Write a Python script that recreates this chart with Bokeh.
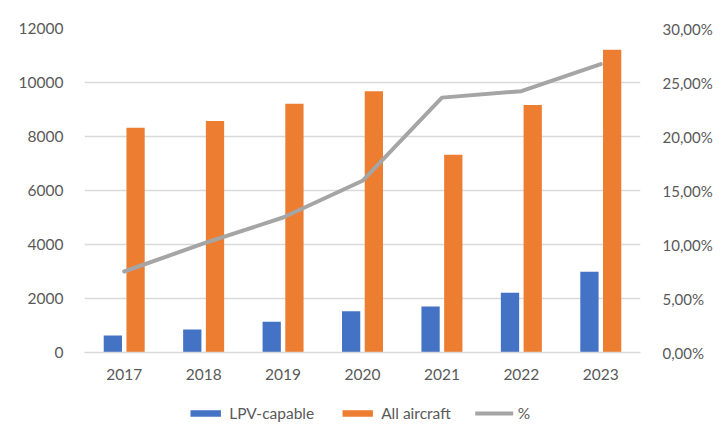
from bokeh.plotting import figure
from bokeh.models import (ColumnDataSource, FactorRange, Range1d, LinearAxis, FixedTicker,
                          CustomJSTickFormatter, Legend, LegendItem)
from bokeh.layouts import column
from bokeh.transform import dodge
from bokeh.embed import file_html
from bokeh.resources import INLINE

years = ["2017", "2018", "2019", "2020", "2021", "2022", "2023"]
lpv_capable = [630, 850, 1140, 1530, 1700, 2210, 2990]
all_aircraft = [8320, 8570, 9210, 9680, 7320, 9170, 11210]
pct = [0.075, 0.101, 0.125, 0.159, 0.236, 0.242, 0.267]

left_ticks = [0, 2000, 4000, 6000, 8000, 10000, 12000]
right_ticks = [0.0, 0.05, 0.10, 0.15, 0.20, 0.25, 0.30]

src = ColumnDataSource(dict(year=years, lpv=lpv_capable, all=all_aircraft, pct=pct))

FONT = "Lato"
TXT = "#595959"
GRID = "#D9D9D9"
BLUE = "#4472C4"
ORANGE = "#ED7D31"
GRAY = "#A5A5A5"

p = figure(width=715, height=395, x_range=FactorRange(*years), y_range=Range1d(0, 12000),
           output_backend="svg", toolbar_location=None,
           min_border_left=84, min_border_right=69, min_border_top=28, min_border_bottom=43)
p.extra_y_ranges = {"pct": Range1d(0, 0.30)}
p.outline_line_color = None
p.background_fill_color = "white"
p.border_fill_color = "white"

p.vbar(x=dodge("year", -0.143, range=p.x_range), top="lpv", width=0.23, source=src,
       fill_color=BLUE, line_color=None)
p.vbar(x=dodge("year", 0.143, range=p.x_range), top="all", width=0.23, source=src,
       fill_color=ORANGE, line_color=None)
p.line(x="year", y="pct", source=src, y_range_name="pct", line_color=GRAY,
       line_width=4, line_cap="round", line_join="round")

# left axis
ya = p.yaxis[0]
ya.ticker = FixedTicker(ticks=left_ticks)
ya.axis_line_color = None
ya.major_tick_line_color = None
ya.minor_tick_line_color = None
ya.major_label_text_font = FONT
ya.major_label_text_font_size = "15.5px"
ya.major_label_text_color = TXT
ya.major_label_standoff = 15

ra = LinearAxis(y_range_name="pct", ticker=FixedTicker(ticks=right_ticks),
                formatter=CustomJSTickFormatter(code="return (tick*100).toFixed(2).replace('.', ',') + '%';"))
ra.axis_line_color = None
ra.major_tick_line_color = None
ra.minor_tick_line_color = None
ra.major_label_text_font = FONT
ra.major_label_text_font_size = "15px"
ra.major_label_text_color = TXT
ra.major_label_standoff = 16
p.add_layout(ra, "right")

xa = p.xaxis[0]
xa.axis_line_color = GRID
xa.axis_line_width = 1.5
xa.major_tick_line_color = None
xa.minor_tick_line_color = None
xa.major_label_text_font = FONT
xa.major_label_text_font_size = "15.5px"
xa.major_label_text_color = TXT
xa.major_label_standoff = 10

p.xgrid.grid_line_color = None
p.ygrid.ticker = FixedTicker(ticks=left_ticks)
p.ygrid.grid_line_color = GRID
p.ygrid.grid_line_width = 1.5

# legend strip
lg = figure(width=715, height=35, x_range=Range1d(0, 1), y_range=Range1d(0, 1),
            x_axis_type=None, y_axis_type=None, output_backend="svg", toolbar_location=None,
            min_border_left=0, min_border_right=0, min_border_top=0, min_border_bottom=0)
lg.outline_line_color = None
lg.xgrid.visible = False
lg.ygrid.visible = False
offscreen = ColumnDataSource(dict(x=[-5], y=[-5]))
r1 = lg.vbar(x="x", top="y", width=0.1, source=offscreen, fill_color=BLUE, line_color=None)
r2 = lg.vbar(x="x", top="y", width=0.1, source=offscreen, fill_color=ORANGE, line_color=None)
r3 = lg.line(x="x", y="y", source=offscreen, line_color=GRAY, line_width=4, line_cap="round")

legend = Legend(items=[LegendItem(label="LPV-capable", renderers=[r1]),
                       LegendItem(label="All aircraft", renderers=[r2]),
                       LegendItem(label="%", renderers=[r3])],
                orientation="horizontal", location="center",
                glyph_width=38, glyph_height=8, label_standoff=5, spacing=24,
                label_text_font=FONT, label_text_font_size="15.5px", label_text_color=TXT,
                border_line_color=None, background_fill_alpha=0, padding=4, margin=0)
lg.add_layout(legend, "center")

layout = column(p, lg, spacing=0)
open("out.html", "w").write(file_html(layout, INLINE))
